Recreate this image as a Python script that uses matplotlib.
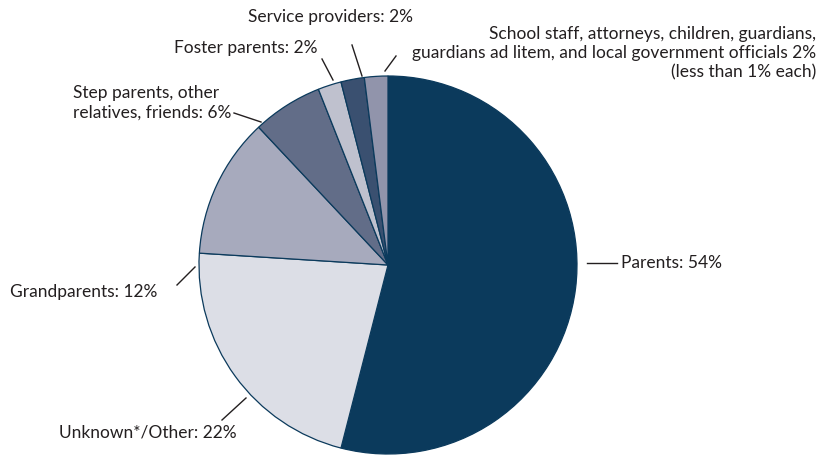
import matplotlib
matplotlib.use("Agg")
import matplotlib.pyplot as plt

labels = ["Parents: 54%", "Unknown*/Other: 22%", "Grandparents: 12%",
          "Step parents, other\nrelatives, friends: 6%", "Foster parents: 2%",
          "Service providers: 2%",
          "School staff, attorneys, children, guardians,\nguardians ad litem, and local government officials 2%\n(less than 1% each)"]
shares = [54, 22, 12, 6, 2, 2, 2]
colors = ["#0b3a5c", "#dcdee6", "#a7aabd", "#626d88", "#bfc1ce", "#3a5070", "#9194ab"]

W, H = 820, 455
fig = plt.figure(figsize=(8.2, 4.55), dpi=100)
ax = fig.add_axes([0, 0, 1, 1])

cx, cy, r = 388, H - 265, 189
ax.pie(shares, colors=colors, startangle=90, counterclock=False,
       center=(cx, cy), radius=r, frame=True,
       wedgeprops=dict(edgecolor="#0b3a5c", linewidth=0.9))
ax.set_xlim(0, W)
ax.set_ylim(0, H)
ax.set_aspect("equal")
ax.axis("off")

tc = "#231f20"
fs = 12.5

# leader lines (pixel coords, y from top)
leaders = [((587, 263), (617, 263)),
           ((246, 398), (222, 420)),
           ((195, 267), (177, 285)),
           ((261, 122), (234, 113)),
           ((333, 80), (322, 59)),
           ((362, 76), (352, 45)),
           ((385, 71), (396, 56))]
for (x0, y0), (x1, y1) in leaders:
    ax.plot([x0, x1], [H - y0, H - y1], color=tc, lw=1)

# label anchors: x, y, ha
anchors = [(621, 263, "left"), (237, 433, "right"), (157, 292, "right"),
           (73, 103, "left"), (318, 48, "right"), (413, 17, "right"),
           (816, 53, "right")]
for lab, (x, y, ha) in zip(labels, anchors):
    ax.text(x, H - y, lab, ha=ha, va="center", fontsize=fs, color=tc,
            family=["Lato", "DejaVu Sans"], multialignment=ha,
            linespacing=1.25)

fig.savefig("out.png", dpi=100)
